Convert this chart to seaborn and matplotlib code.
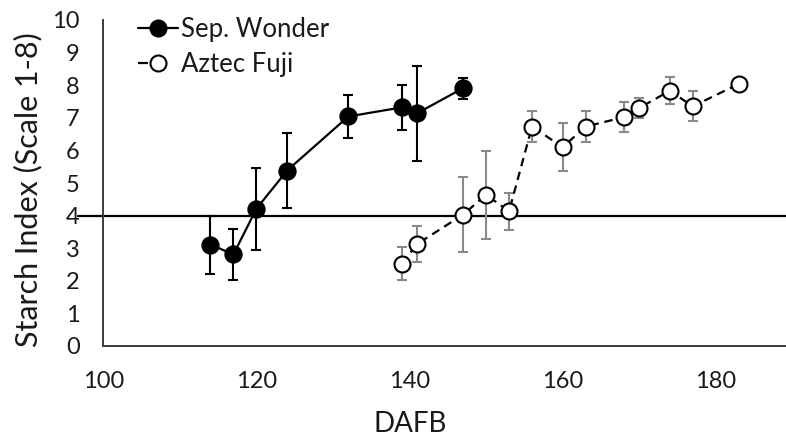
import matplotlib
matplotlib.use("Agg")
import matplotlib.pyplot as plt
from matplotlib.lines import Line2D
from matplotlib.ticker import MultipleLocator
import seaborn as sns
import pandas as pd

# Starch index over days after full bloom (mean ± SD)
sep_dafb = [114, 117, 120, 124, 132, 139, 141, 147]
sep_mean = [3.11, 2.81, 4.21, 5.38, 7.04, 7.32, 7.14, 7.91]
sep_sd = [0.89, 0.79, 1.25, 1.16, 0.67, 0.68, 1.45, 0.32]

az_dafb = [139, 141, 147, 150, 153, 156, 160, 163, 168, 170, 174, 177, 183]
az_mean = [2.53, 3.13, 4.03, 4.64, 4.13, 6.73, 6.10, 6.73, 7.02, 7.30, 7.83, 7.35, 8.04]
az_sd = [0.52, 0.56, 1.16, 1.35, 0.57, 0.48, 0.74, 0.47, 0.46, 0.30, 0.41, 0.46, 0.0]

threshold = 4
series_names = ["Sep. Wonder", "Aztec Fuji"]

sns.set_style("white")
plt.rcParams["font.family"] = ["Lato", "DejaVu Sans"]

sep = pd.DataFrame({"DAFB": sep_dafb, "Starch": sep_mean})
az = pd.DataFrame({"DAFB": az_dafb, "Starch": az_mean})

fig = plt.figure(figsize=(7.86, 4.42), dpi=100)
W, H = 786, 442
left, right, bottom, top = 103.3, 792.3, 346.0, 20.0
ax = fig.add_axes([left / W, 1 - bottom / H, (right - left) / W, (bottom - top) / H])

axis_col = "#3c3c3c"
text_col = "#1a1a1a"

# reference line at index 4, extending a little left of the y axis
ax.add_line(Line2D([-0.037, 1], [threshold, threshold], transform=ax.get_yaxis_transform(),
                   color="black", lw=1.6, clip_on=False, zorder=2))

# error bars
ax.errorbar(sep_dafb, sep_mean, yerr=sep_sd, fmt="none", ecolor="black",
            elinewidth=1.5, capsize=3.5, capthick=1.5, zorder=3)
ax.errorbar(az_dafb, az_mean, yerr=az_sd, fmt="none", ecolor="#8a8a8a",
            elinewidth=1.5, capsize=3.5, capthick=1.5, zorder=3)

sns.lineplot(data=sep, x="DAFB", y="Starch", ax=ax, color="black", lw=1.6,
             marker="o", markersize=12, markerfacecolor="black",
             markeredgecolor="black", markeredgewidth=1.2, zorder=4)
sns.lineplot(data=az, x="DAFB", y="Starch", ax=ax, color="black", lw=1.6,
             linestyle=(0, (3.8, 2.6)), marker="o", markersize=11.5,
             markerfacecolor="white", markeredgecolor="black",
             markeredgewidth=1.5, zorder=4)

ax.set_xlim(100, 190)
ax.set_ylim(0, 10)
ax.xaxis.set_major_locator(MultipleLocator(20))
ax.xaxis.set_minor_locator(MultipleLocator(5))
ax.yaxis.set_major_locator(MultipleLocator(1))
ax.yaxis.set_minor_locator(MultipleLocator(0.5))

for s in ["top", "right"]:
    ax.spines[s].set_visible(False)
for s in ["left", "bottom"]:
    ax.spines[s].set_color(axis_col)
    ax.spines[s].set_linewidth(1.4)

ax.tick_params(axis="both", which="both", direction="out", length=6,
               width=1.1, color=axis_col, labelsize=17, labelcolor=text_col)
ax.tick_params(axis="x", which="major", pad=12)
ax.tick_params(axis="y", which="major", pad=11)

ax.set_xlabel("DAFB", fontsize=20, color=text_col)
ax.set_ylabel("Starch Index (Scale 1-8)", fontsize=22, color=text_col)
ax.xaxis.set_label_coords((410 - left) / (right - left), -(424 - bottom) / (bottom - top))
ax.xaxis.label.set_va("center")
ax.yaxis.set_label_coords((28 - left) / (right - left), (bottom - 190) / (bottom - top))
ax.yaxis.label.set_va("center")

handles = [
    Line2D([], [], color="black", lw=1.6, marker="o", markersize=12,
           markerfacecolor="black", markeredgecolor="black"),
    Line2D([], [], color="black", lw=1.6, linestyle=(0, (4.5, 40)), marker="o",
           markersize=11.5, markerfacecolor="white", markeredgecolor="black",
           markeredgewidth=1.5),
]
leg = ax.legend(handles, series_names, loc="upper left",
                bbox_to_anchor=((138 - left) / (right - left), (bottom - 17) / (bottom - top)),
                frameon=False, fontsize=18.5, handlelength=1.56, handletextpad=0.1,
                labelspacing=0.38, borderaxespad=0, borderpad=0)
for t in leg.get_texts():
    t.set_color(text_col)

fig.savefig("out.png", dpi=100)
